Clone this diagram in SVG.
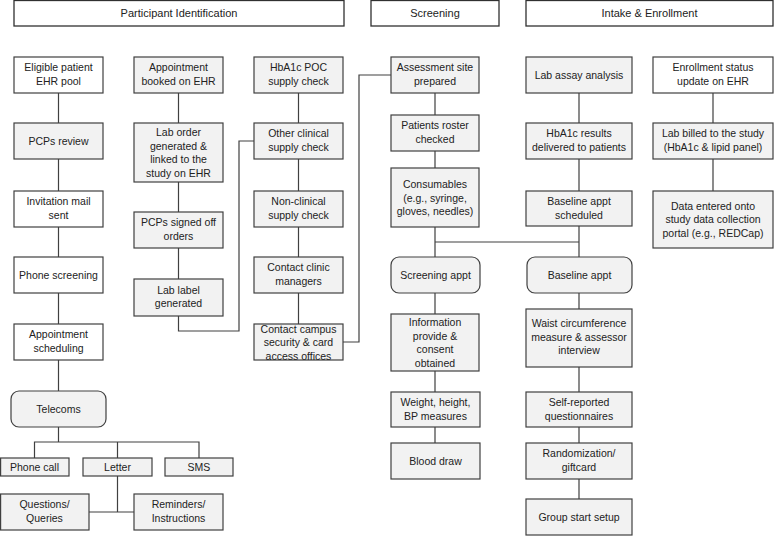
<svg xmlns="http://www.w3.org/2000/svg" width="774" height="536" viewBox="0 0 774 536">
<style>
.b{stroke:#404040;stroke-width:1.2;fill:#f2f2f2}
.w{stroke:#404040;stroke-width:1.2;fill:#ffffff}
.h{stroke:#303030;stroke-width:1.3;fill:#ffffff}
text{font-family:"Liberation Sans",Arial,sans-serif;font-size:10.5px;fill:#222;text-anchor:middle}
.ht{font-size:11px}
.c{stroke:#404040;stroke-width:1.2;fill:none}
</style>
<rect width="774" height="536" fill="#ffffff"/>
<g id="headers">
<g id="h-participant"><rect class="h" x="14" y="0.5" width="330" height="25.5"/><text class="ht" x="179" y="17">Participant Identification</text></g>
<g id="h-screening"><rect class="h" x="371" y="0.5" width="128" height="25.5"/><text class="ht" x="435" y="17">Screening</text></g>
<g id="h-intake"><rect class="h" x="526" y="0.5" width="247" height="25.5"/><text class="ht" x="649.5" y="17">Intake &amp; Enrollment</text></g>
</g>
<g id="connectors">
<path class="c" d="M58.5 93V123M58.5 159V191M58.5 227V257M58.5 293V324M58.5 360V391M58.5 427V442M34.5 458V442H199V458M117.5 442V458M117.5 476V512M89 512H134"/>
<path class="c" d="M178.5 93V123M178.5 182V212M178.5 248V279M178.5 316V331H239V141H254"/>
<path class="c" d="M298.5 93V123M298.5 159V191M298.5 227V257M298.5 293V324M343 342H359V75H391"/>
<path class="c" d="M435 93V115M435 151V168M435 227V257M435 293V314M435 371V392M435 427V443M435 242H579"/>
<path class="c" d="M579 93V123M579 159V191M579 226V257M579 293V309M579 367V392M579 427V443M579 479V499"/>
<path class="c" d="M713 93V123M713 159V191"/>
</g>
<g id="n-eligible"><rect class="w" x="14" y="57" width="89" height="36"/><text x="58.5" y="71">Eligible patient</text><text x="58.5" y="84.5">EHR pool</text></g>
<g id="n-pcps"><rect class="b" x="14" y="123" width="89" height="36"/><text x="58.5" y="144.8">PCPs review</text></g>
<g id="n-invite"><rect class="w" x="14" y="191" width="89" height="36"/><text x="58.5" y="205">Invitation mail</text><text x="58.5" y="218.5">sent</text></g>
<g id="n-phone"><rect class="w" x="14" y="257" width="89" height="36"/><text x="58.5" y="278.8">Phone screening</text></g>
<g id="n-apptsched"><rect class="w" x="14" y="324" width="89" height="36"/><text x="58.5" y="338">Appointment</text><text x="58.5" y="351.5">scheduling</text></g>
<g id="n-telecoms"><rect class="b" x="11" y="391" width="95" height="36" rx="8"/><text x="58.5" y="412.8">Telecoms</text></g>
<g id="n-phonecall"><rect class="b" x="0.6" y="458" width="68.4" height="18"/><text x="34.5" y="470.8">Phone call</text></g>
<g id="n-letter"><rect class="b" x="83" y="458" width="69" height="18"/><text x="117.5" y="470.8">Letter</text></g>
<g id="n-sms"><rect class="b" x="165" y="458" width="68" height="18"/><text x="199" y="470.8">SMS</text></g>
<g id="n-questions"><rect class="b" x="0.6" y="494" width="88.4" height="36"/><text x="44.5" y="508">Questions/</text><text x="44.5" y="521.5">Queries</text></g>
<g id="n-reminders"><rect class="b" x="134" y="494" width="89" height="36"/><text x="178.5" y="508">Reminders/</text><text x="178.5" y="521.5">Instructions</text></g>
<g id="n-apptbook"><rect class="b" x="134" y="57" width="89" height="36"/><text x="178.5" y="71">Appointment</text><text x="178.5" y="84.5">booked on EHR</text></g>
<g id="n-laborder"><rect class="b" x="134" y="123" width="89" height="59"/><text x="178.5" y="136">Lab order</text><text x="178.5" y="149.5">generated &amp;</text><text x="178.5" y="163">linked to the</text><text x="178.5" y="176.5">study on EHR</text></g>
<g id="n-pcpsigned"><rect class="b" x="134" y="212" width="89" height="36"/><text x="178.5" y="226">PCPs signed off</text><text x="178.5" y="239.5">orders</text></g>
<g id="n-lablabel"><rect class="b" x="134" y="279" width="89" height="37"/><text x="178.5" y="293.5">Lab label</text><text x="178.5" y="307">generated</text></g>
<g id="n-hba1cpoc"><rect class="b" x="254" y="57" width="89" height="36"/><text x="298.5" y="71">HbA1c POC</text><text x="298.5" y="84.5">supply check</text></g>
<g id="n-otherclin"><rect class="b" x="254" y="123" width="89" height="36"/><text x="298.5" y="137">Other clinical</text><text x="298.5" y="150.5">supply check</text></g>
<g id="n-nonclin"><rect class="b" x="254" y="191" width="89" height="36"/><text x="298.5" y="205">Non-clinical</text><text x="298.5" y="218.5">supply check</text></g>
<g id="n-clinicmgr"><rect class="b" x="254" y="257" width="89" height="36"/><text x="298.5" y="271">Contact clinic</text><text x="298.5" y="284.5">managers</text></g>
<g id="n-campus"><rect class="b" x="254" y="324" width="89" height="36"/><text x="298.5" y="332.5">Contact campus</text><text x="298.5" y="346">security &amp; card</text><text x="298.5" y="359.5">access offices</text></g>
<g id="n-assess"><rect class="b" x="391" y="57" width="88" height="36"/><text x="435" y="71">Assessment site</text><text x="435" y="84.5">prepared</text></g>
<g id="n-roster"><rect class="b" x="391" y="115" width="88" height="36"/><text x="435" y="129">Patients roster</text><text x="435" y="142.5">checked</text></g>
<g id="n-consum"><rect class="b" x="391" y="168" width="88" height="59"/><text x="435" y="188">Consumables</text><text x="435" y="201.5">(e.g., syringe,</text><text x="435" y="215">gloves, needles)</text></g>
<g id="n-screenappt"><rect class="b" x="391" y="257" width="89" height="36" rx="8"/><text x="435.5" y="278.8">Screening appt</text></g>
<g id="n-info"><rect class="b" x="391" y="314" width="88" height="57"/><text x="435" y="326">Information</text><text x="435" y="339.5">provide &amp;</text><text x="435" y="353">consent</text><text x="435" y="366.5">obtained</text></g>
<g id="n-weight"><rect class="b" x="391" y="392" width="89" height="35"/><text x="435.5" y="406">Weight, height,</text><text x="435.5" y="419.5">BP measures</text></g>
<g id="n-blood"><rect class="b" x="391" y="443" width="89" height="36"/><text x="435.5" y="464.8">Blood draw</text></g>
<g id="n-labassay"><rect class="b" x="526" y="57" width="106" height="36"/><text x="579" y="78.8">Lab assay analysis</text></g>
<g id="n-hba1cres"><rect class="b" x="526" y="123" width="106" height="36"/><text x="579" y="137">HbA1c results</text><text x="579" y="150.5">delivered to patients</text></g>
<g id="n-basesched"><rect class="b" x="526" y="191" width="106" height="35"/><text x="579" y="205">Baseline appt</text><text x="579" y="218.5">scheduled</text></g>
<g id="n-baseappt"><rect class="b" x="527" y="257" width="105" height="36" rx="8"/><text x="579.5" y="278.8">Baseline appt</text></g>
<g id="n-waist"><rect class="b" x="526" y="309" width="106" height="58"/><text x="579" y="327">Waist circumference</text><text x="579" y="340.5">measure &amp; assessor</text><text x="579" y="354">interview</text></g>
<g id="n-selfrep"><rect class="b" x="526" y="392" width="106" height="35"/><text x="579" y="406">Self-reported</text><text x="579" y="419.5">questionnaires</text></g>
<g id="n-random"><rect class="b" x="526" y="443" width="106" height="36"/><text x="579" y="457">Randomization/</text><text x="579" y="470.5">giftcard</text></g>
<g id="n-group"><rect class="b" x="526" y="499" width="106" height="36"/><text x="579" y="520.8">Group start setup</text></g>
<g id="n-enroll"><rect class="w" x="653" y="57" width="120" height="36"/><text x="713" y="71">Enrollment status</text><text x="713" y="84.5">update on EHR</text></g>
<g id="n-labbilled"><rect class="b" x="653" y="123" width="120" height="36"/><text x="713" y="137">Lab billed to the study</text><text x="713" y="150.5">(HbA1c &amp; lipid panel)</text></g>
<g id="n-data"><rect class="b" x="653" y="191" width="120" height="57"/><text x="713" y="209.5">Data entered onto</text><text x="713" y="223">study data collection</text><text x="713" y="236.5">portal (e.g., REDCap)</text></g>
</svg>
